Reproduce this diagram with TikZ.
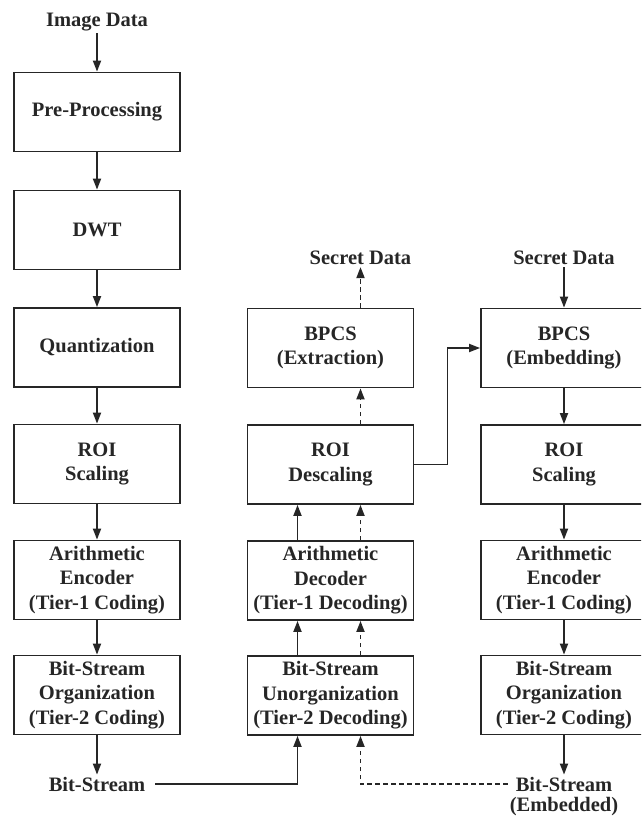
\documentclass[tikz,border=0pt]{standalone}
\usepackage{fontspec}
\setmainfont{Liberation Serif}
\usetikzlibrary{calc,arrows.meta}

\tikzset{
  block/.style={draw, line width=1.8pt, minimum width=166pt, minimum height=79pt, align=center, inner sep=2pt},
  lbl/.style={inner sep=2pt},
  flow/.style={line width=1.8pt, -{Triangle[length=11pt,width=8pt]}},
  hidden/.style={flow, dash pattern=on 4.5pt off 3.5pt},
}

\begin{document}
\begin{tikzpicture}[x=1pt, y=-1pt, font=\fontsize{20.5}{24.5}\selectfont\bfseries, black!85]
                \useasboundingbox (0,0) rectangle (641,816);
                \clip (0,0) rectangle (641,816);
                % compression chain
                \node[lbl] (img) at (97,22) {Image Data};
                \node[block] (pre) at (97,112) {Pre-Processing};
                \node[block] (dwt) at (97,230) {DWT};
                \node[block] (qnt) at (97,347.5) {Quantization};
                \node[block] (roi) at (97,464) {ROI\\Scaling};
                \node[block] (enc) at (97,580) {Arithmetic\\Encoder\\(Tier-1 Coding)};
                \node[block] (org) at (97,695) {Bit-Stream\\Organization\\(Tier-2 Coding)};
                \node[lbl] (bs) at (97,784) {Bit-Stream};
                \foreach \a/\b in {img/pre, pre/dwt, dwt/qnt, qnt/roi, roi/enc, enc/org, org/bs} {
                    \draw[flow] (\a) -- (\b);
                }
                % decoding chain
                \node[lbl] (sdout) at (360.5,258) {Secret Data};
                \node[block] (ext) at (330.5,348) {BPCS\\(Extraction)};
                \node[block] (desc) at (330.5,464.5) {ROI\\Descaling};
                \node[block] (dec) at (330.5,580.5) {Arithmetic\\Decoder\\(Tier-1 Decoding)};
                \node[block] (unorg) at (330.5,695.5) {Bit-Stream\\Unorganization\\(Tier-2 Decoding)};
                % embedding chain
                \node[lbl] (sdin) at (564,258) {Secret Data};
                \node[block] (emb) at (564,348) {BPCS\\(Embedding)};
                \node[block] (roi2) at (564,464.5) {ROI\\Scaling};
                \node[block] (enc2) at (564,580) {Arithmetic\\Encoder\\(Tier-1 Coding)};
                \node[block] (org2) at (564,695) {Bit-Stream\\Organization\\(Tier-2 Coding)};
                \node[lbl] (bse) at (564,784) {Bit-Stream};
                \node[lbl] (bsemb) at (564,806.5) {(Embedded)};
                \foreach \a/\b in {sdin/emb, emb/roi2, roi2/enc2, enc2/org2, org2/bse} {
                    \draw[flow] (\a) -- (\b);
                }
                % solid = plain stream, dashed = embedded stream
                \foreach \dx/\kind in {-33/flow, 30/hidden} {
                    \draw[\kind] ($(unorg.north)+(\dx,0)$) -- ($(dec.south)+(\dx,0)$);
                    \draw[\kind] ($(dec.north)+(\dx,0)$) -- ($(desc.south)+(\dx,0)$);
                }
                \draw[hidden] ($(desc.north)+(30,0)$) -- ($(ext.south)+(30,0)$);
                \draw[hidden] ($(ext.north)+(30,0)$) -- (sdout);
                \draw[flow] (desc.east) -- ++(33,0) |- (emb.west);
                \draw[flow, shorten <=8pt] (bs.east) -| ($(unorg.south)+(-33,0)$);
                \draw[hidden, shorten <=6pt] (bse.west) -| ($(unorg.south)+(30,0)$);
            \end{tikzpicture}
\end{document}
